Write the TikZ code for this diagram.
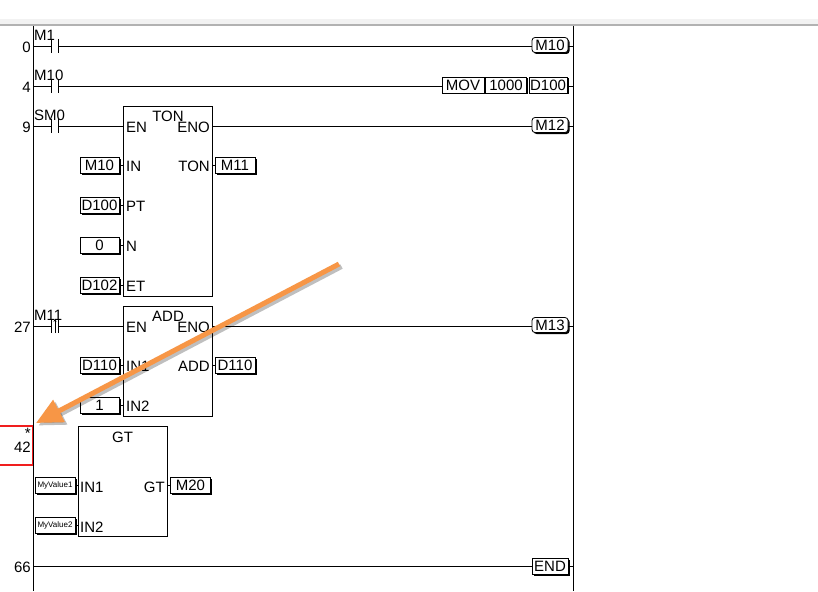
\documentclass[tikz,border=0pt]{standalone}
\usepackage{fontspec}
\setmainfont{Liberation Sans}
\usetikzlibrary{arrows.meta,shadows}
\definecolor{arr}{RGB}{247,150,70}
\definecolor{stepred}{RGB}{240,30,30}
\newcommand\ldfont{\fontsize{15}{15}\selectfont}
\newcommand\ldtiny{\fontsize{8}{8}\selectfont}
\begin{document}
\begin{tikzpicture}[x=1pt,y=-1pt,
  wire/.style={line width=0.8pt},
  lbl/.style={font=\ldfont, inner sep=0pt},
  num/.style={lbl, anchor=east},
  clabel/.style={lbl, anchor=south west},
  pinl/.style={lbl, anchor=west},
  pinr/.style={lbl, anchor=east},
  opbox/.style={draw, fill=white, line width=0.8pt, inner sep=0pt,
     minimum height=16pt, minimum width=39pt, font=\ldfont,
     general shadow={shadow xshift=1.5pt, shadow yshift=-1.5pt, fill=black}},
  coilbox/.style={opbox, rounded corners=3pt, minimum width=36pt, minimum height=15pt},
  contact/.style={minimum width=6pt, minimum height=14pt, inner sep=0pt},
  fblock/.style={draw, line width=0.8pt, inner sep=0pt, anchor=north west, minimum width=89pt},
]
\useasboundingbox (0,0) rectangle (818,591);
\fill[white] (0,0) rectangle (818,591);
% top band
\fill[gray!10] (0,19) rectangle (818,24);
\draw[gray!60, line width=1.6pt] (0,25) -- (818,25);
% rails
\coordinate (LT) at (33,26); \coordinate (LB) at (33,591);
\coordinate (RT) at (573,26); \coordinate (RB) at (573,591);
\draw[wire] (LT) -- (LB);
\draw[wire] (RT) -- (RB);

% step numbers
\node[num] (n0) at (31,47) {0};
\node[num] (n4) at (31,87) {4};
\node[num] (n9) at (31,127) {9};
\node[num] (n27) at (31,327) {27};
\node[num] (n66) at (31,567) {66};
\draw[stepred, line width=1.3pt] (0,426) -- (32.3,426) -- (32.3,465) -- (0,465);
\node[num] (star) at (31,433) {*};
\node[num] (n42) at (31,447) {42};

% ---- rung 0
\node[contact] (c0) at (55,46) {};
\draw[wire] (c0.north west) -- (c0.south west) (c0.north east) -- (c0.south east);
\node[clabel] (l0) at (34,41) {M1};
\node[coilbox] (q0) at (550,45) {M10};
\draw[wire] (LT |- c0) -- (c0.west) (c0.east) -- (q0.west |- c0) (q0.east |- c0) -- (RT |- c0);

% ---- rung 4
\node[contact] (c4) at (55,86) {};
\draw[wire] (c4.north west) -- (c4.south west) (c4.north east) -- (c4.south east);
\node[clabel] (l4) at (34,81) {M10};
\node[opbox, minimum width=42pt] (mv1) at (463,85) {MOV};
\node[opbox, minimum width=41pt] (mv2) at (506,85) {1000};
\node[opbox, minimum width=38pt] (mv3) at (548,85) {D100};
\draw[wire] (LT |- c4) -- (c4.west) (c4.east) -- (mv1.west |- c4) (mv3.east |- c4) -- (RT |- c4);

% ---- rung 9 : TON
\node[contact] (c9) at (55,126) {};
\draw[wire] (c9.north west) -- (c9.south west) (c9.north east) -- (c9.south east);
\node[clabel] (l9) at (34,121) {SM0};
\node[fblock, minimum height=190pt] (ton) at (123,106) {};
\node[lbl] (tont) at (168,116.5) {TON};
\node[pinl] (tonen) at (126,127.5) {EN};
\node[pinr] (toneno) at (210,127.5) {ENO};
\node[coilbox] (q9) at (550,125) {M12};
\draw[wire] (LT |- c9) -- (c9.west) (c9.east) -- (ton.west |- c9)
  (ton.east |- c9) -- (q9.west |- c9) (q9.east |- c9) -- (RT |- c9);
% pins
\node[opbox] (tin) at (99.5,165.5) {M10};
\node[opbox] (tpt) at (99.5,205.5) {D100};
\node[opbox] (tn) at (99.5,245.5) {0};
\node[opbox] (tet) at (99.5,285.5) {D102};
\node[pinl] (lin) at (126,166) {IN};
\node[pinl] (lpt) at (126,206) {PT};
\node[pinl] (ln) at (126,246) {N};
\node[pinl] (let) at (126,286) {ET};
\node[pinr] (lton) at (210,166) {TON};
\node[opbox, minimum width=40pt] (tout) at (235,165.5) {M11};
\draw[wire] (tin.east) -- (ton.west |- tin) (tpt.east) -- (ton.west |- tpt)
  (tn.east) -- (ton.west |- tn) (tet.east) -- (ton.west |- tet)
  (ton.east |- tout) -- (tout.west);

% ---- rung 27 : ADD
\node[contact] (c27) at (55,326) {};
\draw[wire] (c27.north west) -- (c27.south west) (c27.north east) -- (c27.south east);
\draw[line width=0.6pt, -{Stealth[length=3pt,width=3pt]}] (c27.south) -- (c27.north);
\node[clabel] (l27) at (34,321) {M11};
\node[fblock, minimum height=110pt] (add) at (123,306) {};
\node[lbl] (addt) at (168,316.5) {ADD};
\node[pinl] (adden) at (126,327.5) {EN};
\node[pinr] (addeno) at (210,327.5) {ENO};
\node[coilbox] (q27) at (550,325) {M13};
\draw[wire] (LT |- c27) -- (c27.west) (c27.east) -- (add.west |- c27)
  (add.east |- c27) -- (q27.west |- c27) (q27.east |- c27) -- (RT |- c27);
\node[opbox] (ain1) at (99.5,365.5) {D110};
\node[opbox] (ain2) at (99.5,405.5) {1};
\node[pinl] (lain1) at (126,366) {IN1};
\node[pinl] (lain2) at (126,406) {IN2};
\node[pinr] (ladd) at (210,366) {ADD};
\node[opbox, minimum width=40pt] (aout) at (235,365.5) {D110};
\draw[wire] (ain1.east) -- (add.west |- ain1) (ain2.east) -- (add.west |- ain2)
  (add.east |- aout) -- (aout.west);

% ---- rung 42 : GT
\node[fblock, minimum height=110pt] (gt) at (78,426) {};
\node[lbl] (gtt) at (122.5,437) {GT};
\node[opbox, minimum width=40pt, font=\ldtiny] (gin1) at (55,485.5) {MyValue1};
\node[opbox, minimum width=40pt, font=\ldtiny] (gin2) at (55,525.5) {MyValue2};
\node[pinl] (lgin1) at (80,487) {IN1};
\node[pinl] (lgin2) at (80,527) {IN2};
\node[pinr] (lgt) at (165,487) {GT};
\node[opbox, minimum width=40pt] (gout) at (190.5,485.5) {M20};
\draw[wire] (gin1.east) -- (gt.west |- gin1) (gin2.east) -- (gt.west |- gin2)
  (gt.east |- gout) -- (gout.west);

% ---- rung 66 : END
\node[opbox, minimum width=36pt] (qend) at (550,566) {END};
\draw[wire] (LT |- qend) -- (qend.west) (qend.east) -- (RT |- qend);

% ---- orange arrow
\coordinate (as) at (339,264);
\coordinate (ae) at (36,423);
\draw[line width=5pt, black, opacity=0.25, -{Triangle[length=26pt,width=24pt]},
  transform canvas={shift={(2.5pt,-2.5pt)}}] (as) -- (ae);
\draw[line width=5pt, arr, -{Triangle[length=26pt,width=24pt]}] (as) -- (ae);
\end{tikzpicture}
\end{document}
